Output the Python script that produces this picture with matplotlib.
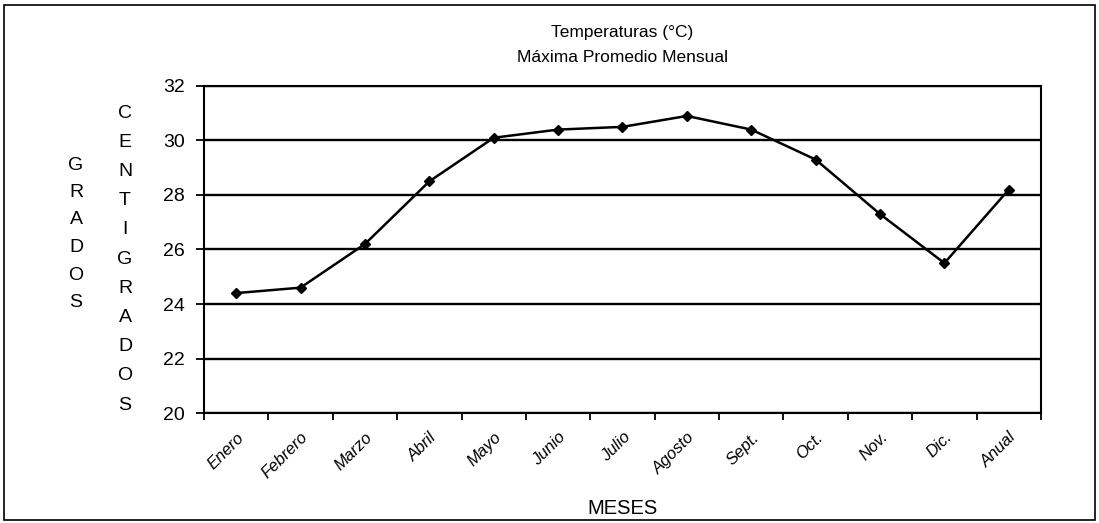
import numpy as np
import matplotlib.pyplot as plt
from matplotlib.patches import Rectangle

# datos: temperatura maxima promedio mensual
meses = ["Enero", "Febrero", "Marzo", "Abril", "Mayo", "Junio", "Julio",
         "Agosto", "Sept.", "Oct.", "Nov.", "Dic.", "Anual"]
temp_max = [24.4, 24.6, 26.2, 28.5, 30.1, 30.4, 30.5, 30.9, 30.4, 29.3, 27.3, 25.5, 28.2]
y_ticks = [20, 22, 24, 26, 28, 30, 32]

arial = ["Liberation Sans", "DejaVu Sans"]

fig = plt.figure(figsize=(10.99, 5.23), dpi=100)
fig.patch.set_facecolor("white")

# marco exterior
fig.patches.append(Rectangle((0.004, 0.006), 0.992, 0.984, transform=fig.transFigure,
                             fill=False, edgecolor="black", linewidth=1.2))

ax = fig.add_axes([0.1856, 0.2103, 0.7616, 0.6253])
x = np.arange(len(meses))
ax.plot(x, temp_max, color="black", linewidth=1.8, marker="D", markersize=5.5,
        zorder=3)

ax.set_xlim(-0.5, len(meses) - 0.5)
ax.set_ylim(20, 32)
ax.set_yticks(y_ticks)
ax.set_yticklabels([str(v) for v in y_ticks], fontfamily=arial, fontsize=14)
ax.grid(axis="y", color="black", linewidth=1.7)
ax.set_axisbelow(True)

ax.set_xticks(x)
ax.set_xticklabels(meses, rotation=45, ha="right", rotation_mode="anchor",
                   fontfamily=arial, fontstyle="italic", fontsize=12)
ax.set_xticks(np.arange(-0.5, len(meses)), minor=True)
ax.tick_params(axis="x", which="major", length=0, pad=12)
ax.tick_params(axis="x", which="minor", length=5, width=1.3, direction="out")
ax.tick_params(axis="y", length=6, width=1.3, direction="out", pad=8)

for s in ax.spines.values():
    s.set_color("black")
    s.set_linewidth(1.5)

# titulos
fig.text(0.5665, 1 - 32 / 523, "Temperaturas (°C)", ha="center", va="center",
         fontfamily=arial, fontsize=12.5)
fig.text(0.5665, 1 - 57 / 523, "Máxima Promedio Mensual", ha="center", va="center",
         fontfamily=arial, fontsize=12.5)
fig.text(0.5665, 1 - 509 / 523, "MESES", ha="center", va="center",
         fontfamily=arial, fontsize=14.5)

# etiquetas verticales del eje y
for i, c in enumerate("GRADOS"):
    fig.text(76 / 1099, 1 - (165 + i * 27.5) / 523, c, ha="center", va="center",
             fontfamily=arial, fontsize=14)
for i, c in enumerate("CENTIGRADOS"):
    fig.text(125 / 1099, 1 - (113 + i * 29.2) / 523, c, ha="center", va="center",
             fontfamily=arial, fontsize=14)

fig.savefig("out.png", dpi=100)
